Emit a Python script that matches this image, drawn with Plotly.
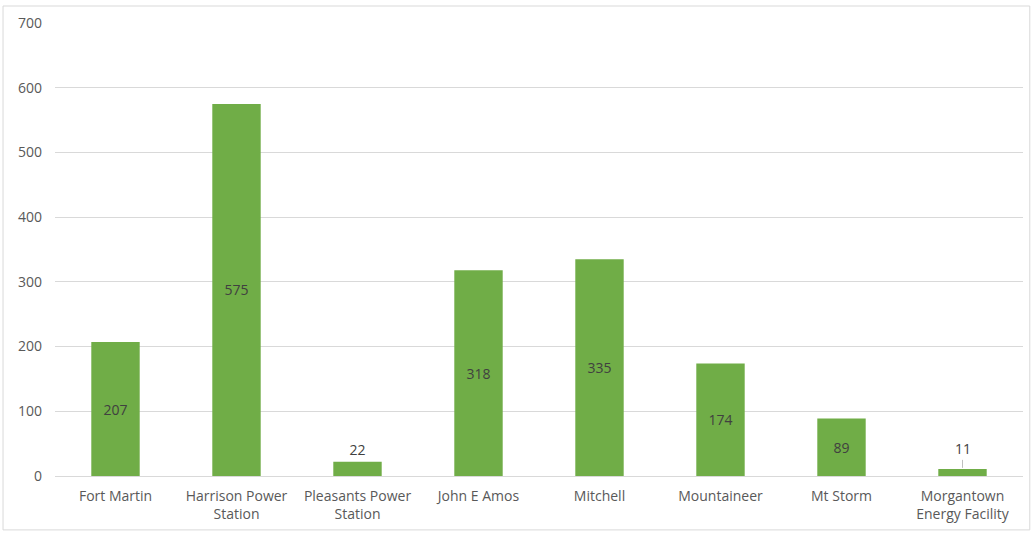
import plotly.graph_objects as go

categories = ["Fort Martin", "Harrison Power<br>Station", "Pleasants Power<br>Station",
              "John E Amos", "Mitchell", "Mountaineer", "Mt Storm",
              "Morgantown<br>Energy Facility"]
values = [207, 575, 22, 318, 335, 174, 89, 11]
text_positions = ["inside", "inside", "outside", "inside", "inside", "inside", "inside", "none"]
tick_vals = [0, 100, 200, 300, 400, 500, 600, 700]

fig = go.Figure()
fig.add_trace(go.Bar(
    x=categories, y=values,
    marker=dict(color="#70AD47", line=dict(width=0)),
    text=[str(v) for v in values],
    textposition=text_positions,
    insidetextanchor="middle",
    textfont=dict(family="Open Sans", size=14, color="#404040"),
    outsidetextfont=dict(family="Open Sans", size=14, color="#404040"),
    cliponaxis=False,
))
# small-value label with leader line
fig.add_annotation(x=categories[7], y=values[7], text=str(values[7]), showarrow=True,
                   arrowhead=0, arrowwidth=1, arrowcolor="#bfbfbf", ax=0, ay=-20,
                   standoff=1, font=dict(family="Open Sans", size=14, color="#404040"))

fig.update_layout(
    width=1033, height=533,
    margin=dict(l=55, r=10, t=23, b=57, autoexpand=False),
    paper_bgcolor="white", plot_bgcolor="white",
    bargap=0.6, showlegend=False,
    font=dict(family="Open Sans", size=14, color="#595959"),
    xaxis=dict(showgrid=False, showline=True, linecolor="#d9d9d9", linewidth=1,
               ticks="", tickfont=dict(size=14, color="#595959"), ticklabelstandoff=7,
               automargin=False),
    yaxis=dict(range=[0, 700], tickvals=tick_vals, showgrid=True, gridcolor="#d9d9d9",
               gridwidth=1, zeroline=False, showline=False, ticks="",
               tickfont=dict(size=14, color="#595959"), ticklabelstandoff=12,
               automargin=False),
)
fig.add_shape(type="rect", xref="paper", yref="paper",
              x0=-0.0537, x1=1.007, y0=-0.119, y1=1.0375,
              line=dict(color="#d9d9d9", width=1), fillcolor="rgba(0,0,0,0)", layer="below")

fig.write_html("out.html")
